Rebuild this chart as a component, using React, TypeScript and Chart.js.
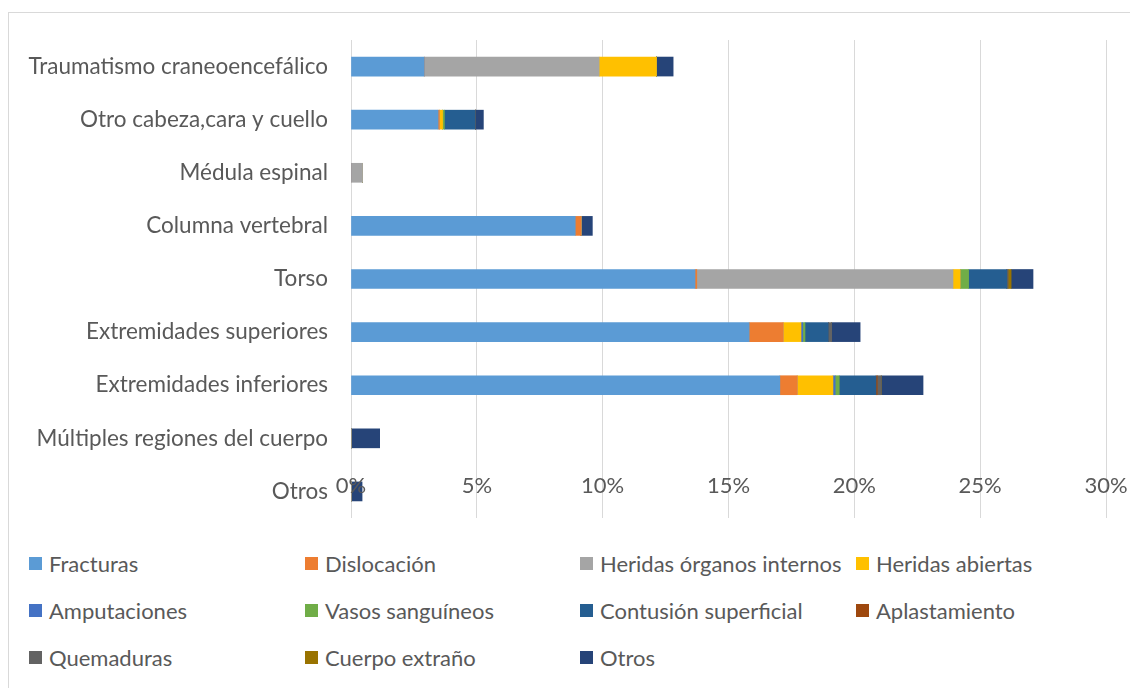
import React, { useEffect, useRef } from "react";
import { Chart, registerables } from "chart.js";

Chart.register(...registerables);

const categories = [
  "Traumatismo craneoencefálico",
  "Otro cabeza,cara y cuello",
  "Médula espinal",
  "Columna vertebral",
  "Torso",
  "Extremidades superiores",
  "Extremidades inferiores",
  "Múltiples regiones del cuerpo",
  "Otros",
];

const seriesNames = [
  "Fracturas",
  "Dislocación",
  "Heridas órganos internos",
  "Heridas abiertas",
  "Amputaciones",
  "Vasos sanguíneos",
  "Contusión superficial",
  "Aplastamiento",
  "Quemaduras",
  "Cuerpo extraño",
  "Otros",
];

const seriesColors = [
  "#5B9BD5",
  "#ED7D31",
  "#A5A5A5",
  "#FFC000",
  "#4472C4",
  "#70AD47",
  "#255E91",
  "#9E480E",
  "#636363",
  "#997300",
  "#264478",
];

const fracturas = [2.91, 3.46, 0, 8.91, 13.67, 15.82, 17.04, 0, 0];
const dislocacion = [0, 0.05, 0, 0.23, 0.07, 1.35, 0.69, 0, 0];
const heridasOrganos = [6.95, 0, 0.46, 0, 10.18, 0, 0, 0, 0];
const heridasAbiertas = [2.28, 0.13, 0, 0, 0.29, 0.71, 1.42, 0, 0];
const amputaciones = [0, 0, 0, 0, 0, 0.07, 0.09, 0, 0];
const vasos = [0, 0.07, 0, 0, 0.33, 0.09, 0.16, 0, 0];
const contusion = [0, 1.23, 0, 0, 1.52, 0.93, 1.46, 0, 0];
const aplastamiento = [0, 0, 0, 0, 0, 0, 0.05, 0, 0];
const quemaduras = [0, 0, 0, 0, 0.05, 0.13, 0.16, 0, 0];
const cuerpoExtrano = [0, 0, 0, 0, 0.12, 0, 0, 0, 0];
const otros = [0.66, 0.32, 0, 0.45, 0.87, 1.13, 1.66, 1.14, 0.44];

const seriesValues = [
  fracturas,
  dislocacion,
  heridasOrganos,
  heridasAbiertas,
  amputaciones,
  vasos,
  contusion,
  aplastamiento,
  quemaduras,
  cuerpoExtrano,
  otros,
];

const tickLabels = ["0%", "5%", "10%", "15%", "20%", "25%", "30%"];

const FONT = "Lato, 'DejaVu Sans', sans-serif";
const TEXT = "#595959";

const legendCols = [20, 296, 571, 847];
const legendRows = [550, 597, 644];

export default function App() {
  const ref = useRef<HTMLCanvasElement | null>(null);

  useEffect(() => {
    if (!ref.current) return;
    const chart = new Chart(ref.current, {
      type: "bar",
      data: {
        labels: categories,
        datasets: seriesNames.map((name, i) => ({
          label: name,
          data: seriesValues[i],
          backgroundColor: seriesColors[i],
          borderWidth: 0,
          barThickness: 19,
        })),
      },
      options: {
        indexAxis: "y",
        animation: false,
        responsive: false,
        maintainAspectRatio: false,
        layout: { padding: { left: 0, right: 24, top: 27, bottom: 0 } },
        plugins: {
          legend: { display: false },
          tooltip: { enabled: false },
        },
        scales: {
          x: {
            type: "linear",
            stacked: true,
            position: "bottom",
            min: 0,
            max: 30,
            ticks: {
              stepSize: 5,
              mirror: true,
              padding: 19,
              z: 1,
              color: TEXT,
              font: { family: FONT, size: 22 },
              callback: (_v: any, i: number) => tickLabels[i],
            },
            grid: { color: "#D9D9D9", lineWidth: 1, drawTicks: false },
            border: { display: false },
            afterFit: (s: any) => {
              s.height = 15;
              s.paddingLeft = 0;
              s.paddingRight = 0;
            },
          },
          y: {
            stacked: true,
            ticks: {
              padding: 23,
              color: TEXT,
              font: { family: FONT, size: 22.5 },
            },
            grid: { display: false, drawTicks: false },
            border: { display: false },
            afterFit: (s: any) => {
              s.width = 342;
              s.paddingTop = 0;
              s.paddingBottom = 0;
            },
          },
        },
      },
    });
    return () => chart.destroy();
  }, []);

  return (
    <div style={{ position: "fixed", inset: 0, overflow: "hidden", background: "#fff" }}>
      <div
        style={{
          position: "absolute",
          left: 8,
          top: 12,
          width: 1140,
          height: 700,
          border: "1px solid #D9D9D9",
          boxSizing: "border-box",
        }}
      >
        <canvas
          ref={ref}
          width={1121}
          height={520}
          style={{ position: "absolute", left: 0, top: 0, width: 1121, height: 520 }}
        />
        {seriesNames.map((name, i) => {
          const col = i % 4;
          const row = Math.floor(i / 4);
          return (
            <div
              key={name}
              style={{
                position: "absolute",
                left: legendCols[col],
                top: legendRows[row] - 14,
                height: 28,
                display: "flex",
                alignItems: "center",
                fontFamily: FONT,
                fontSize: 22,
                color: TEXT,
                whiteSpace: "nowrap",
              }}
            >
              <span
                style={{
                  display: "inline-block",
                  width: 13,
                  height: 13,
                  background: seriesColors[i],
                  marginRight: 7,
                }}
              />
              {name}
            </div>
          );
        })}
      </div>
    </div>
  );
}
